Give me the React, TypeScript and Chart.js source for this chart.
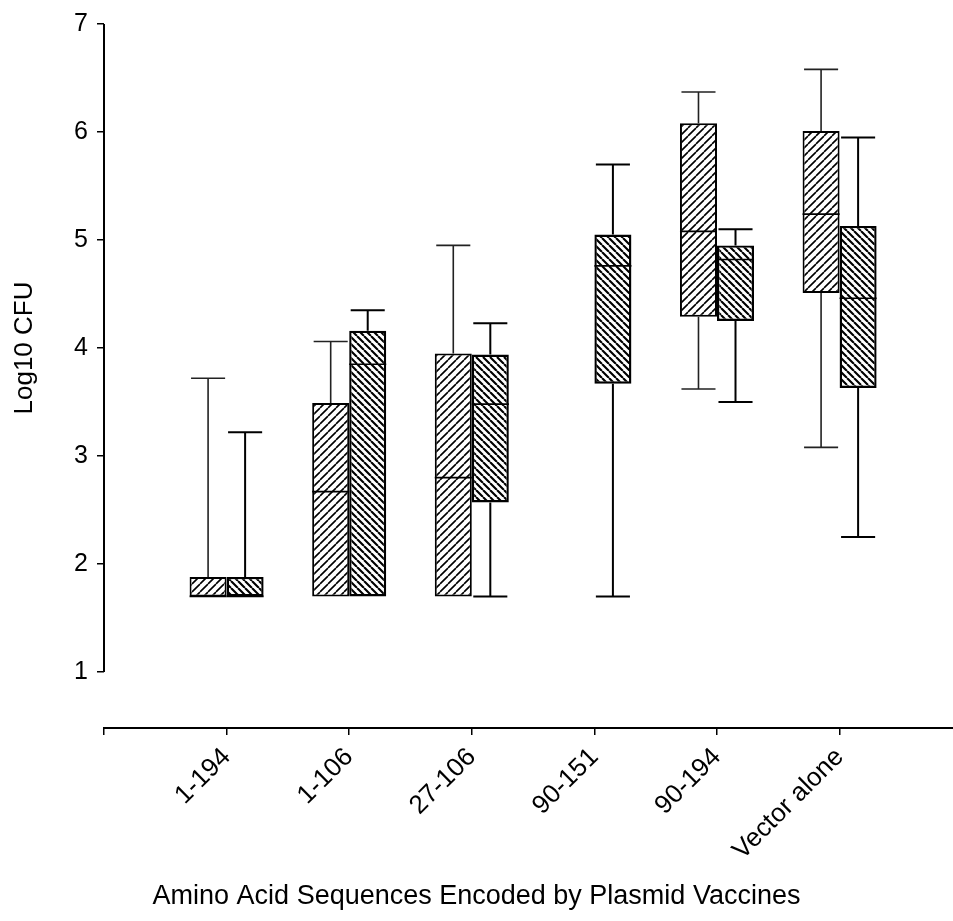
import React, { useEffect, useRef } from 'react';
import { Chart, registerables } from 'chart.js';

Chart.register(...registerables);

const categories = ['1-194', '1-106', '27-106', '90-151', '90-194', 'Vector alone'];
const xTickValues = [0, 1, 2, 3, 4, 5, 6];
const yTickValues = [1, 2, 3, 4, 5, 6, 7];
const xTitle = 'Amino Acid Sequences Encoded by Plasmid Vaccines';
const yTitle = 'Log10 CFU';

// Series A ("/" hatch)
const aMin = [1.70, 1.70, 1.70, null, 3.62, 3.08];
const aQ1 = [1.70, 1.70, 1.70, null, 4.29, 4.51];
const aMedian = [1.70, 2.67, 2.80, null, 5.08, 5.24];
const aQ3 = [1.88, 3.49, 3.95, null, 6.08, 6.01];
const aMax = [3.72, 4.06, 4.95, null, 6.37, 6.58];

// Series B ("\" hatch)
const bMin = [1.70, 1.70, 1.70, 1.70, 3.50, 2.25];
const bQ1 = [1.70, 1.70, 2.57, 3.67, 4.25, 3.63];
const bMedian = [1.70, 3.85, 3.48, 4.76, 4.82, 4.46];
const bQ3 = [1.88, 4.16, 3.94, 5.05, 4.95, 5.13];
const bMax = [3.22, 4.35, 4.23, 5.70, 5.10, 5.95];

const FONT = "'Liberation Sans', Arial, Helvetica, sans-serif";
const X_TITLE_SIZE = 27;
const X_TITLE_PAD_BOTTOM = 8;

type Stats = {
  idx: number[];
  min: (number | null)[];
  q1: (number | null)[];
  med: (number | null)[];
  q3: (number | null)[];
  max: (number | null)[];
  whiskerWidth: number;
  whiskerColor: string;
};

function present(q1: (number | null)[]) {
  return categories.map((_, i) => i).filter((i) => q1[i] != null);
}

const seriesA: Stats = {
  idx: present(aQ1), min: aMin, q1: aQ1, med: aMedian, q3: aQ3, max: aMax,
  whiskerWidth: 1.6, whiskerColor: '#222',
};
const seriesB: Stats = {
  idx: present(bQ1), min: bMin, q1: bQ1, med: bMedian, q3: bQ3, max: bMax,
  whiskerWidth: 2, whiskerColor: '#000',
};

function makeHatch(forward: boolean, period: number, lw: number): CanvasPattern | string {
  const c = document.createElement('canvas');
  c.width = period;
  c.height = period;
  const g = c.getContext('2d');
  if (!g) return '#fff';
  g.fillStyle = '#fff';
  g.fillRect(0, 0, period, period);
  g.strokeStyle = '#000';
  g.lineWidth = lw;
  g.beginPath();
  for (const k of [-period, 0, period]) {
    if (forward) {
      g.moveTo(k, period);
      g.lineTo(k + period, 0);
    } else {
      g.moveTo(k, 0);
      g.lineTo(k + period, period);
    }
  }
  g.stroke();
  const p = g.createPattern(c, 'repeat');
  return p || '#fff';
}

const boxPlugin = {
  id: 'boxExtras',
  afterDatasetsDraw(chart: any) {
    const ctx = chart.ctx as CanvasRenderingContext2D;
    const ys = chart.scales.y;
    [seriesA, seriesB].forEach((s, d) => {
      const meta = chart.getDatasetMeta(d);
      meta.data.forEach((el: any, k: number) => {
        const i = s.idx[k];
        const cx = el.x;
        const half = el.width / 2;
        const capHalf = half * 0.92;
        const pMin = ys.getPixelForValue(s.min[i]);
        const pQ1 = ys.getPixelForValue(s.q1[i]);
        const pMed = ys.getPixelForValue(s.med[i]);
        const pQ3 = ys.getPixelForValue(s.q3[i]);
        const pMax = ys.getPixelForValue(s.max[i]);
        ctx.save();
        ctx.strokeStyle = s.whiskerColor;
        ctx.lineWidth = s.whiskerWidth;
        ctx.beginPath();
        if ((s.max[i] as number) > (s.q3[i] as number)) {
          ctx.moveTo(cx, pQ3);
          ctx.lineTo(cx, pMax);
          ctx.moveTo(cx - capHalf, pMax);
          ctx.lineTo(cx + capHalf, pMax);
        }
        if ((s.min[i] as number) < (s.q1[i] as number)) {
          ctx.moveTo(cx, pQ1);
          ctx.lineTo(cx, pMin);
          ctx.moveTo(cx - capHalf, pMin);
          ctx.lineTo(cx + capHalf, pMin);
        }
        ctx.stroke();
        ctx.strokeStyle = '#000';
        ctx.lineWidth = 1.6;
        ctx.beginPath();
        ctx.moveTo(cx - half, pMed);
        ctx.lineTo(cx + half, pMed);
        ctx.stroke();
        ctx.restore();
      });
    });
  },
  afterDraw(chart: any) {
    const ctx = chart.ctx as CanvasRenderingContext2D;
    const ys = chart.scales.y;
    const x = chart.chartArea.left;
    const pBottom = ys.getPixelForValue(yTickValues[0]);
    const pTop = ys.getPixelForValue(yTickValues[yTickValues.length - 1]);
    ctx.save();
    ctx.strokeStyle = '#000';
    ctx.lineWidth = 2;
    ctx.beginPath();
    ctx.moveTo(x, pBottom);
    ctx.lineTo(x, pTop);
    ctx.stroke();
    // y-axis title centred on the drawn axis line
    ctx.translate(25, (pBottom + pTop) / 2);
    ctx.rotate(-Math.PI / 2);
    ctx.fillStyle = '#000';
    ctx.font = `26px ${FONT}`;
    ctx.textAlign = 'center';
    ctx.textBaseline = 'middle';
    ctx.fillText(yTitle, 0, 0);
    ctx.restore();
  },
};

export default function App() {
  const ref = useRef<HTMLCanvasElement | null>(null);

  useEffect(() => {
    const canvas = ref.current;
    if (!canvas) return;
    const patA = makeHatch(true, 8, 1.6);
    const patB = makeHatch(false, 7, 2.1);
    const titleBoxHeight = X_TITLE_SIZE * 1.2 + X_TITLE_PAD_BOTTOM;
    const chart = new Chart(canvas, {
      type: 'bar',
      data: {
        datasets: [
          {
            label: 'A',
            data: seriesA.idx.map((i) => ({ x: i + 1, y: [aQ1[i] as number, aQ3[i] as number] })) as any,
            backgroundColor: patA as any,
            borderColor: '#000',
            borderWidth: 2,
            borderSkipped: false,
            categoryPercentage: 0.604,
            barPercentage: 1,
          },
          {
            label: 'B',
            data: seriesB.idx.map((i) => ({ x: i + 1, y: [bQ1[i] as number, bQ3[i] as number] })) as any,
            backgroundColor: patB as any,
            borderColor: '#000',
            borderWidth: 2.4,
            borderSkipped: false,
            categoryPercentage: 0.604,
            barPercentage: 1,
          },
        ],
      },
      options: {
        responsive: false,
        animation: false,
        layout: { padding: { top: 24, right: 0, bottom: 0, left: 0 } },
        plugins: {
          legend: { display: false },
          tooltip: { enabled: false },
          title: {
            display: true,
            position: 'bottom',
            text: xTitle,
            color: '#000',
            font: { family: FONT, size: X_TITLE_SIZE, weight: 'normal' },
            padding: { top: 0, bottom: X_TITLE_PAD_BOTTOM },
          },
        },
        scales: {
          x: {
            type: 'linear',
            min: 0,
            max: 6.925,
            offset: false,
            afterBuildTicks: (s: any) => {
              s.ticks = xTickValues.map((v) => ({ value: v }));
            },
            afterFit: (s: any) => {
              s.height = 921 - titleBoxHeight - 728;
            },
            ticks: {
              autoSkip: false,
              minRotation: 45,
              maxRotation: 45,
              padding: 7,
              color: '#000',
              font: { family: FONT, size: 26 },
              callback: (v: any) => (v >= 1 ? categories[v - 1] : ''),
            },
            grid: {
              offset: false,
              drawOnChartArea: false,
              drawTicks: true,
              tickLength: 7,
              color: '#000',
              lineWidth: 1.5,
            },
            border: { display: true, color: '#000', width: 2 },
          } as any,
          y: {
            type: 'linear',
            min: 0.4815,
            max: 7,
            afterBuildTicks: (s: any) => {
              s.ticks = yTickValues.map((v) => ({ value: v }));
            },
            afterFit: (s: any) => {
              s.width = 104;
            },
            ticks: {
              padding: 9,
              color: '#000',
              font: { family: FONT, size: 25 },
              callback: (v: any) => String(v),
            },
            grid: {
              drawOnChartArea: false,
              drawTicks: true,
              tickLength: 7,
              color: '#000',
              lineWidth: 1.5,
            },
            border: { display: false },
          } as any,
        },
      },
      plugins: [boxPlugin],
    });
    return () => chart.destroy();
  }, []);

  return (
    <canvas
      ref={ref}
      width={953}
      height={921}
      style={{ position: 'absolute', left: 0, top: 0, display: 'block', background: '#fff' }}
    />
  );
}
